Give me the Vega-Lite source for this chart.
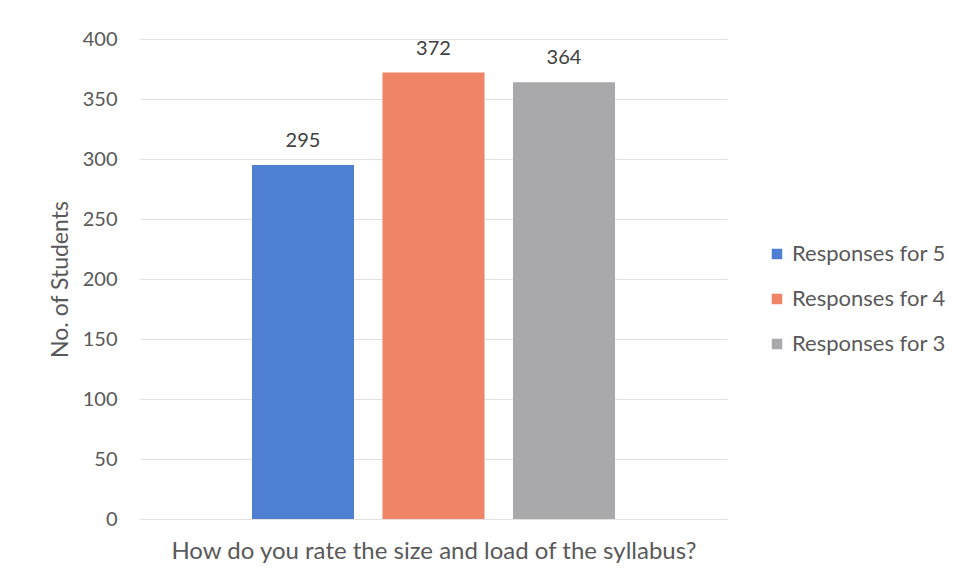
{
  "$schema": "https://vega.github.io/schema/vega-lite/v6.json",
  "autosize": {"type": "none"},
  "padding": {"left": 140, "top": 39, "right": 233, "bottom": 60},
  "width": 587,
  "height": 480,
  "background": "white",
  "config": {
    "font": "Lato",
    "view": {"stroke": null},
    "axis": {"labelColor": "#595959", "titleColor": "#595959", "titleFontWeight": "normal"}
  },
  "data": {
    "values": [
      {"series": "Responses for 5", "students": 295},
      {"series": "Responses for 4", "students": 372},
      {"series": "Responses for 3", "students": 364}
    ]
  },
  "encoding": {
    "x": {
      "field": "series",
      "type": "nominal",
      "sort": null,
      "scale": {"paddingInner": 0.218, "paddingOuter": 0.858},
      "axis": {
        "title": "How do you rate the size and load of the syllabus?",
        "titleFontSize": 24,
        "titlePadding": 20,
        "labels": false,
        "ticks": false,
        "domain": false
      }
    },
    "y": {
      "field": "students",
      "type": "quantitative",
      "scale": {"domain": [0, 400], "nice": false},
      "axis": {
        "title": "No. of Students",
        "titleFontSize": 23,
        "titlePadding": 10,
        "values": [0, 50, 100, 150, 200, 250, 300, 350, 400],
        "labelFontSize": 20,
        "labelPadding": 23,
        "ticks": false,
        "domain": false,
        "gridColor": "#e4e0e0",
        "gridWidth": 1
      }
    }
  },
  "layer": [
    {
      "mark": {"type": "bar"},
      "encoding": {
        "color": {
          "field": "series",
          "type": "nominal",
          "sort": null,
          "scale": {
            "domain": ["Responses for 5", "Responses for 4", "Responses for 3"],
            "range": ["#4f7fd1", "#f08466", "#a9a8ab"]
          },
          "legend": {
            "title": null,
            "orient": "none",
            "legendX": 626,
            "legendY": 204,
            "symbolType": "square",
            "symbolSize": 110,
            "symbolStrokeWidth": 0,
            "labelFontSize": 22,
            "labelColor": "#595959",
            "labelOffset": 4,
            "rowPadding": 23
          }
        }
      }
    },
    {
      "mark": {"type": "text", "baseline": "middle", "dy": -24, "fontSize": 20, "color": "#404040"},
      "encoding": {"text": {"field": "students", "type": "quantitative"}}
    }
  ]
}
